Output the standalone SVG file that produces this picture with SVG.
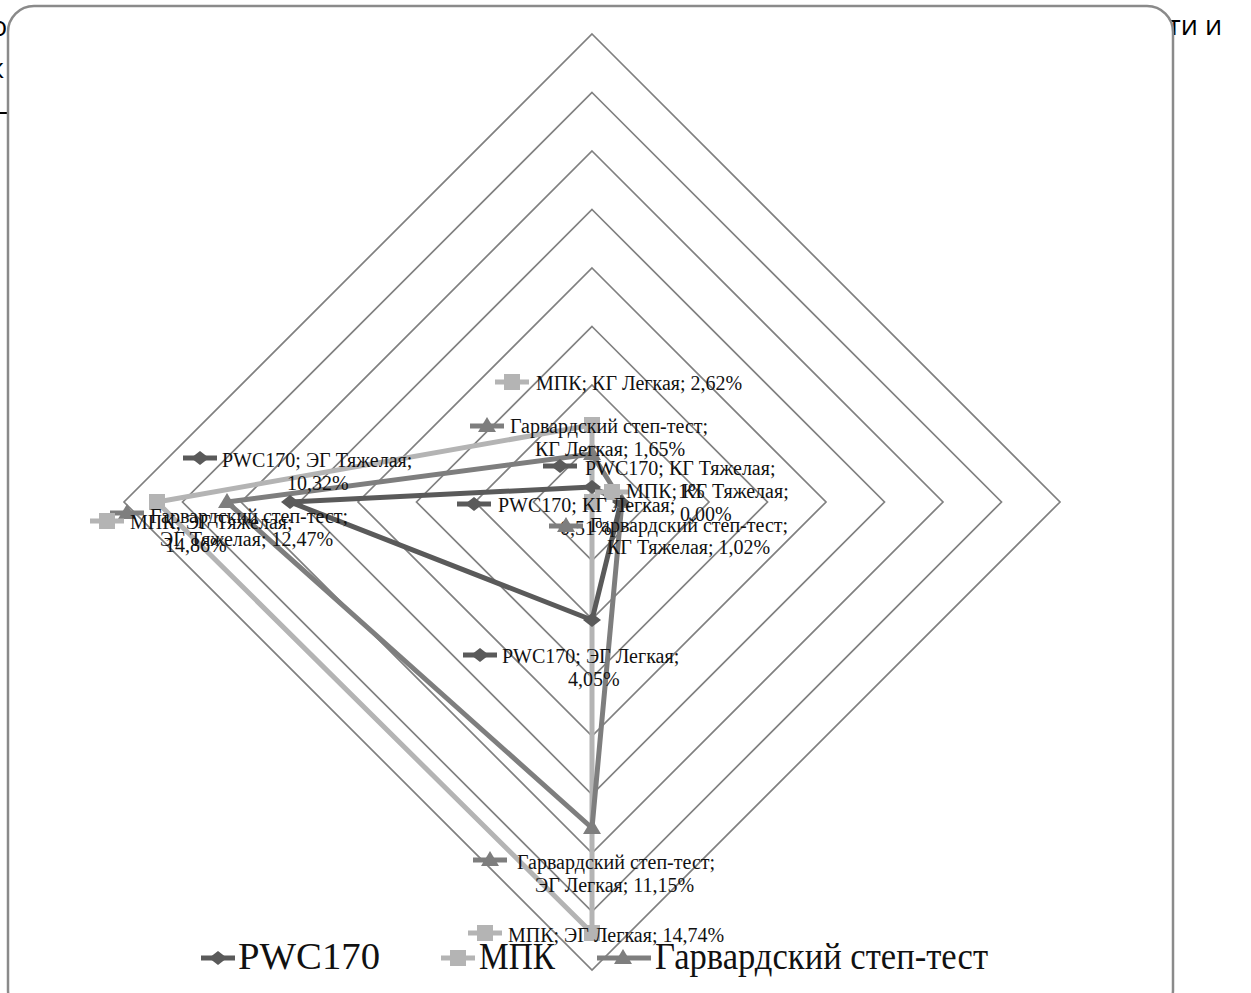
<svg xmlns="http://www.w3.org/2000/svg" width="1251" height="993" viewBox="0 0 1251 993">
<defs>
<style>
.pg{font-family:"Open Sans","DejaVu Sans",sans-serif;font-size:27px;fill:#000}
.grid{fill:none;stroke:#808080;stroke-width:1.7}
.lbl{font-family:"Liberation Serif","Times New Roman",serif;font-size:20px;fill:#111}
.leg{font-family:"Liberation Serif","Times New Roman",serif;font-size:38px;fill:#111}
.s1{fill:none;stroke:#5a5a5a;stroke-width:5;stroke-linejoin:round}
.s2{fill:none;stroke:#b4b4b4;stroke-width:5;stroke-linejoin:round}
.s3{fill:none;stroke:#7e7e7e;stroke-width:5;stroke-linejoin:round}
</style>
<polygon id="dia" points="0,-7 9,0 0,7 -9,0" fill="#5a5a5a"/>
<rect id="sq" x="-8" y="-8" width="16" height="16" fill="#b4b4b4"/>
<polygon id="tri" points="0,-9 9,6 -9,6" fill="#7e7e7e"/>
<g id="k1"><line x1="-17" y1="0" x2="17" y2="0" stroke="#5a5a5a" stroke-width="5"/><use href="#dia"/></g>
<g id="k2"><line x1="-17" y1="0" x2="17" y2="0" stroke="#b4b4b4" stroke-width="5"/><use href="#sq"/></g>
<g id="k3"><line x1="-17" y1="0" x2="17" y2="0" stroke="#7e7e7e" stroke-width="5"/><use href="#tri"/></g>
</defs>
<rect width="1251" height="993" fill="#fff"/>
<g id="page-text">
<text class="pg" x="-9" y="36">о</text>
<text class="pg" x="-10" y="78">к</text>
<text class="pg" x="-14" y="120">—</text>
<text class="pg" x="1168" y="35">ти и</text>
</g>
<rect id="chart-frame" x="8" y="6" width="1165" height="1010" rx="26" fill="#fff" stroke="#8a8a8a" stroke-width="2.5"/>
<g id="grid">
<polygon class="grid" points="592,443.5 650.5,502 592,560.5 533.5,502"/>
<polygon class="grid" points="592,385 709,502 592,619 475,502"/>
<polygon class="grid" points="592,326.5 767.5,502 592,677.5 416.5,502"/>
<polygon class="grid" points="592,268 826,502 592,736 358,502"/>
<polygon class="grid" points="592,209.5 884.5,502 592,794.5 299.5,502"/>
<polygon class="grid" points="592,151 943,502 592,853 241,502"/>
<polygon class="grid" points="592,92.5 1001.5,502 592,911.5 182.5,502"/>
<polygon class="grid" points="592,34 1060,502 592,970 124,502"/>
</g>
<g id="connectors">
<polygon id="line-mpk" class="s2" points="157,502 592,425 592,502 592,933"/>
<polygon id="line-harvard" class="s3" points="227,502 592,454 622,502 592,828"/>
<polygon id="line-pwc" class="s1" points="290,502 592,487 621,502 592,620"/>
</g>
<g id="markers">
<use href="#sq" x="157" y="502"/><use href="#sq" x="592" y="425"/><use href="#sq" x="592" y="502"/><use href="#sq" x="592" y="933"/>
<use href="#tri" x="227" y="502"/><use href="#tri" x="592" y="454"/><use href="#tri" x="622" y="502"/><use href="#tri" x="592" y="828"/>
<use href="#dia" x="290" y="502"/><use href="#dia" x="592" y="487"/><use href="#dia" x="621" y="502"/><use href="#dia" x="592" y="620"/>
</g>
<g id="label-mpk-kg-l"><use href="#k2" x="512" y="382"/><text class="lbl" x="536" y="390">МПК; КГ Легкая; 2,62%</text></g>
<g id="label-harv-kg-l"><use href="#k3" x="487" y="426"/><text class="lbl" x="510" y="433">Гарвардский степ-тест;</text><text class="lbl" x="535" y="456">КГ Легкая; 1,65%</text></g>
<g id="label-pwc-kg-t"><use href="#k1" x="560" y="466"/><text class="lbl" x="585" y="475">PWC170; КГ Тяжелая;</text><text class="lbl" x="678" y="498">1%</text></g>
<g id="label-mpk-kg-t"><use href="#k2" x="612" y="492"/><text class="lbl" x="626" y="498">МПК; КГ Тяжелая;</text><text class="lbl" x="680" y="521">0,00%</text></g>
<g id="label-pwc-kg-l"><use href="#k1" x="474" y="504"/><text class="lbl" x="498" y="512">PWC170; КГ Легкая;</text><text class="lbl" x="560" y="535">0,51%</text></g>
<g id="label-harv-kg-t"><use href="#k3" x="566" y="526"/><text class="lbl" x="590" y="532">Гарвардский степ-тест;</text><text class="lbl" x="607" y="554">КГ Тяжелая; 1,02%</text></g>
<g id="label-pwc-eg-t"><use href="#k1" x="200" y="458"/><text class="lbl" x="222" y="467">PWC170; ЭГ Тяжелая;</text><text class="lbl" x="287" y="490">10,32%</text></g>
<g id="label-harv-eg-t"><use href="#k3" x="127" y="513"/><text class="lbl" x="150" y="523">Гарвардский степ-тест;</text><text class="lbl" x="160" y="546">ЭГ Тяжелая; 12,47%</text></g>
<g id="label-mpk-eg-t"><use href="#k2" x="107" y="521"/><text class="lbl" x="130" y="529">МПК; ЭГ Тяжелая;</text><text class="lbl" x="165" y="552">14,86%</text></g>
<g id="label-pwc-eg-l"><use href="#k1" x="480" y="655"/><text class="lbl" x="502" y="663">PWC170; ЭГ Легкая;</text><text class="lbl" x="568" y="686">4,05%</text></g>
<g id="label-harv-eg-l"><use href="#k3" x="490" y="860"/><text class="lbl" x="517" y="869">Гарвардский степ-тест;</text><text class="lbl" x="535" y="892">ЭГ Легкая; 11,15%</text></g>
<g id="label-mpk-eg-l"><use href="#k2" x="485" y="933"/><text class="lbl" x="508" y="942">МПК; ЭГ Легкая; 14,74%</text></g>
<g id="legend">
<g id="legend-pwc"><use href="#k1" x="218" y="958"/><text class="leg" x="238" y="969" textLength="142" lengthAdjust="spacingAndGlyphs">PWC170</text></g>
<g id="legend-mpk"><use href="#k2" x="458" y="958"/><text class="leg" x="479" y="969" textLength="76" lengthAdjust="spacingAndGlyphs">МПК</text></g>
<g id="legend-harv"><line x1="597" y1="958" x2="651" y2="958" stroke="#7e7e7e" stroke-width="5"/><use href="#tri" x="623" y="958"/><text class="leg" x="655" y="969" textLength="333" lengthAdjust="spacingAndGlyphs">Гарвардский степ-тест</text></g>
</g>
</svg>
